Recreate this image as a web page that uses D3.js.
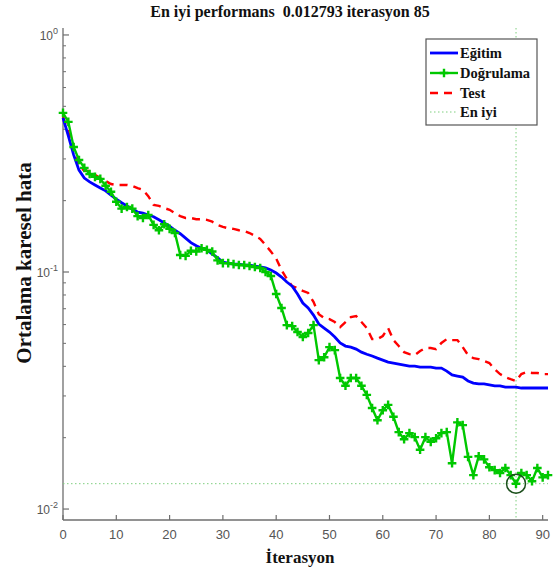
<!DOCTYPE html>
<html><head><meta charset="utf-8">
<script src="https://cdn.jsdelivr.net/npm/d3@7"></script>
<style>body{margin:0;background:#fff}svg{display:block}</style>
</head><body>
<script>
// ---- data ----
const title = "En iyi performans  0.012793 iterasyon 85";
const xLabel = "İterasyon";
const yLabel = "Ortalama karesel hata";
const seriesNames = ["Eğitim", "Doğrulama", "Test", "En iyi"];
const xTicks = [0,10,20,30,40,50,60,70,80,90];
const yTicks = [1, 0.1, 0.01];
const yTickExp = ["0", "-1", "-2"];
const bestEpoch = 85;
const bestValue = 0.012793;
const training = [0.447,0.375,0.312,0.269,0.249,0.240,0.233,0.226,0.220,0.211,
 0.203,0.196,0.190,0.184,0.179,0.177,0.174,0.171,0.166,0.161,
 0.156,0.150,0.145,0.139,0.133,0.129,0.126,0.124,0.119,0.115,
 0.110,0.109,0.108,0.108,0.107,0.107,0.106,0.105,0.104,0.102,
 0.0990,0.0952,0.0907,0.0872,0.0808,0.0740,0.0705,0.0658,0.0603,0.0580,
 0.0558,0.0532,0.0502,0.0487,0.0482,0.0473,0.0459,0.0450,0.0442,0.0433,
 0.0425,0.0417,0.0413,0.0409,0.0405,0.0401,0.0401,0.0397,0.0397,0.0397,
 0.0393,0.0393,0.0382,0.0368,0.0364,0.0360,0.0347,0.0340,0.0337,0.0337,
 0.0334,0.0331,0.0331,0.0327,0.0327,0.0327,0.0324,0.0324,0.0324,0.0324,
 0.0324,0.0324];
const validation = [0.469,0.430,0.337,0.297,0.275,0.259,0.252,0.247,0.231,0.218,
 0.198,0.185,0.188,0.185,0.172,0.169,0.174,0.158,0.150,0.159,
 0.152,0.146,0.118,0.117,0.123,0.122,0.126,0.124,0.122,0.112,
 0.109,0.109,0.108,0.107,0.107,0.106,0.105,0.104,0.100,0.0962,
 0.0808,0.0705,0.0597,0.0591,0.0558,0.0532,0.0553,0.0597,0.0425,0.0437,
 0.0482,0.0468,0.0357,0.0331,0.0357,0.0357,0.0331,0.0303,0.0267,0.0237,
 0.0261,0.0275,0.0245,0.0211,0.0197,0.0209,0.0201,0.0178,0.0201,0.0192,
 0.0199,0.0209,0.0211,0.0156,0.0232,0.0226,0.0166,0.0139,0.0167,0.0162,
 0.0150,0.0146,0.0142,0.0149,0.0139,0.012793,0.0142,0.0139,0.0131,0.0149,
 0.0136,0.0139];
const test = [0.451,0.390,0.318,0.280,0.267,0.267,0.257,0.249,0.242,0.235,
 0.233,0.233,0.233,0.231,0.226,0.222,0.209,0.192,0.190,0.186,
 0.183,0.177,0.172,0.169,0.169,0.167,0.167,0.166,0.163,0.158,
 0.155,0.153,0.152,0.150,0.149,0.146,0.142,0.138,0.130,0.122,
 0.114,0.102,0.0934,0.0872,0.0855,0.0832,0.0816,0.0748,0.0664,0.0639,
 0.0633,0.0615,0.0585,0.0615,0.0645,0.0652,0.0615,0.0580,0.0521,0.0521,
 0.0537,0.0580,0.0516,0.0487,0.0459,0.0450,0.0446,0.0464,0.0478,0.0478,
 0.0473,0.0502,0.0521,0.0516,0.0516,0.0482,0.0446,0.0433,0.0429,0.0421,
 0.0413,0.0389,0.0371,0.0360,0.0353,0.0347,0.0371,0.0378,0.0375,0.0375,
 0.0371,0.0371];

// ---- layout ----
const W = 553, H = 574;
const L = 63, R = 548, T = 28, B = 520;
const svg = d3.select("body").append("svg").attr("width", W).attr("height", H);
const x = d3.scaleLinear().domain([0, 91]).range([L, R]);
const y = d3.scaleLog().domain([0.00899, 1.07]).range([B, T]);
const axisColor = "#6e6e6e";
const serif = "'Liberation Serif','Times New Roman',serif";
const sans = "'Liberation Sans',Arial,sans-serif";

// title
svg.append("text").attr("x", 290).attr("y", 17).attr("text-anchor", "middle")
  .attr("font-family", serif).attr("font-weight", "bold").attr("font-size", 16)
  .attr("fill", "#111").style("white-space", "pre").text(title);

// axes
const g = svg.append("g");
g.append("line").attr("x1", L).attr("x2", L).attr("y1", T).attr("y2", B)
  .attr("stroke", axisColor).attr("stroke-width", 1.3);
g.append("line").attr("x1", L).attr("x2", R).attr("y1", B).attr("y2", B)
  .attr("stroke", axisColor).attr("stroke-width", 1.3);

// y ticks major + minor
const minor = [];
[0.01, 0.1].forEach(d => { for (let k = 2; k <= 9; k++) minor.push(d * k); });
minor.forEach(v => {
  if (v > y.domain()[0] && v < y.domain()[1])
    g.append("line").attr("x1", L).attr("x2", L + 3).attr("y1", y(v)).attr("y2", y(v))
      .attr("stroke", axisColor).attr("stroke-width", 1);
});
yTicks.forEach((v, i) => {
  g.append("line").attr("x1", L).attr("x2", L + 6).attr("y1", y(v)).attr("y2", y(v))
    .attr("stroke", axisColor).attr("stroke-width", 1.2);
  const t = g.append("text").attr("x", L - 5).attr("y", y(v) + 5).attr("text-anchor", "end")
    .attr("font-family", sans).attr("font-size", 12).attr("fill", "#555");
  t.append("tspan").text("10");
  t.append("tspan").attr("dy", -6).attr("font-size", 9).text(yTickExp[i]);
});
// x ticks
xTicks.forEach(v => {
  g.append("line").attr("x1", x(v)).attr("x2", x(v)).attr("y1", B).attr("y2", B - 5)
    .attr("stroke", axisColor).attr("stroke-width", 1.2);
  g.append("text").attr("x", x(v)).attr("y", B + 19).attr("text-anchor", "middle")
    .attr("font-family", sans).attr("font-size", 13).attr("fill", "#555").text(v);
});

// axis labels
svg.append("text").attr("x", 300).attr("y", 563).attr("text-anchor", "middle")
  .attr("font-family", serif).attr("font-weight", "bold").attr("font-size", 17)
  .attr("fill", "#111").text(xLabel);
svg.append("text").attr("transform", "translate(31,263) rotate(-90)").attr("text-anchor", "middle")
  .attr("font-family", serif).attr("font-weight", "bold").attr("font-size", 21)
  .attr("fill", "#111").text(yLabel);

// best lines
const bestColor = "#7fcf7f";
svg.append("line").attr("x1", x(bestEpoch)).attr("x2", x(bestEpoch)).attr("y1", T).attr("y2", B)
  .attr("stroke", bestColor).attr("stroke-width", 1).attr("stroke-dasharray", "1.5,2.5");
svg.append("line").attr("x1", L).attr("x2", R).attr("y1", y(bestValue)).attr("y2", y(bestValue))
  .attr("stroke", bestColor).attr("stroke-width", 1).attr("stroke-dasharray", "1.5,2.5");

// lines
const line = d3.line().x((d, i) => x(i)).y(d => y(d));
svg.append("path").datum(test).attr("d", line).attr("fill", "none")
  .attr("stroke", "#ff0000").attr("stroke-width", 2.4).attr("stroke-dasharray", "8,6");
svg.append("path").datum(training).attr("d", line).attr("fill", "none")
  .attr("stroke", "#0000ff").attr("stroke-width", 2.8);
svg.append("path").datum(validation).attr("d", line).attr("fill", "none")
  .attr("stroke", "#00c800").attr("stroke-width", 2.4);
const m = 4.3;
svg.append("g").selectAll("path").data(validation).join("path")
  .attr("d", (d, i) => `M${x(i)-m},${y(d)}H${x(i)+m}M${x(i)},${y(d)-m}V${y(d)+m}`)
  .attr("stroke", "#00c800").attr("stroke-width", 2.4);

// best circle
svg.append("circle").attr("cx", x(bestEpoch)).attr("cy", y(bestValue)).attr("r", 9.5)
  .attr("fill", "none").attr("stroke", "#1d4f1d").attr("stroke-width", 1.5);

// legend
const lg = svg.append("g");
lg.append("rect").attr("x", 426).attr("y", 39).attr("width", 111).attr("height", 86)
  .attr("fill", "#fff").attr("stroke", "#555").attr("stroke-width", 1.2);
const ly = [53, 73, 93, 112];
const styles = [
  {c: "#0000ff", w: 2.8, dash: null},
  {c: "#00c800", w: 2.4, dash: null, marker: true},
  {c: "#ff0000", w: 2.4, dash: "8,6"},
  {c: bestColor, w: 1, dash: "1.5,2.5"}
];
seriesNames.forEach((n, i) => {
  const s = styles[i];
  lg.append("line").attr("x1", 430).attr("x2", 458).attr("y1", ly[i]).attr("y2", ly[i])
    .attr("stroke", s.c).attr("stroke-width", s.w).attr("stroke-dasharray", s.dash);
  if (s.marker) lg.append("path").attr("d", `M${444-m},${ly[i]}H${444+m}M444,${ly[i]-m}V${ly[i]+m}`)
    .attr("stroke", s.c).attr("stroke-width", 2.4);
  lg.append("text").attr("x", 460).attr("y", ly[i] + 5).attr("font-family", serif)
    .attr("font-weight", "bold").attr("font-size", 14.5).attr("fill", "#111").text(n);
});
</script>
</body></html>
